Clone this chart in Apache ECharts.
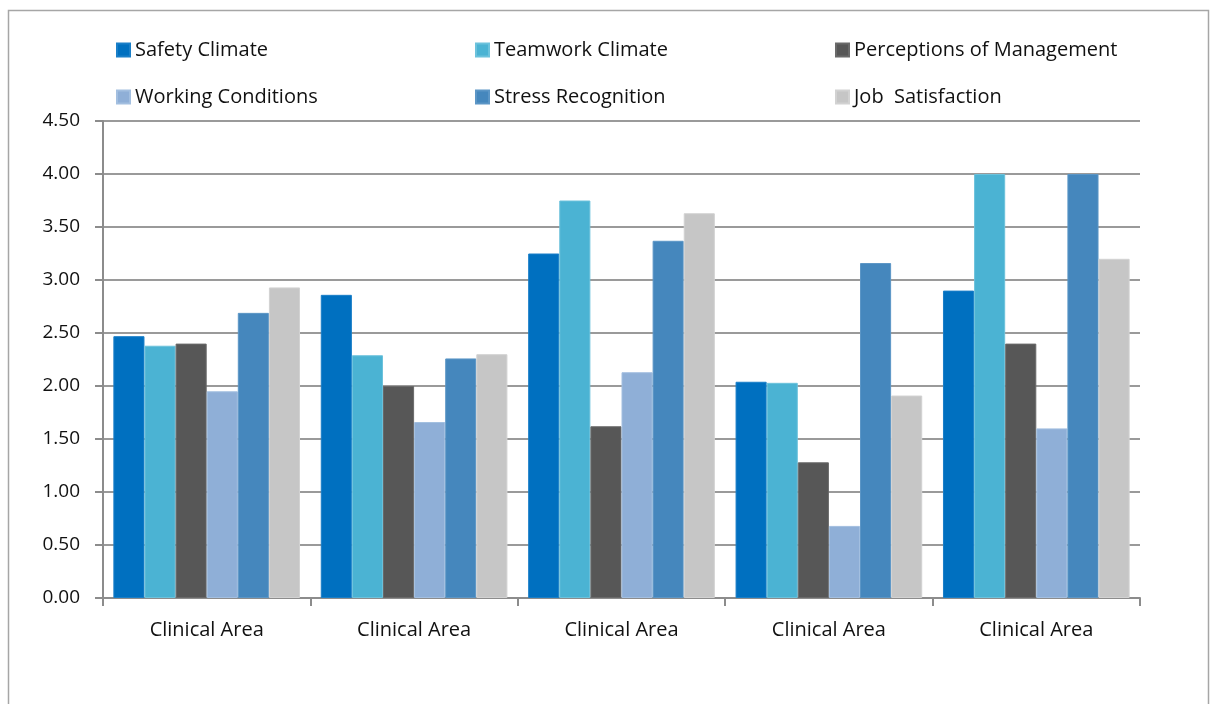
<!DOCTYPE html>
<html>
<head>
<meta charset="utf-8">
<script src="https://cdn.jsdelivr.net/npm/echarts@6/dist/echarts.min.js"></script>
<style>
html,body{margin:0;padding:0;background:#fff;}
#chart{width:1210px;height:704px;}
</style>
</head>
<body>
<div id="chart"></div>
<script>
var categories = ["Clinical Area", "Clinical Area", "Clinical Area", "Clinical Area", "Clinical Area"];
var seriesNames = ["Safety Climate", "Teamwork Climate", "Perceptions of Management", "Working Conditions", "Stress Recognition", "Job  Satisfaction"];
var safetyClimate = [2.47, 2.86, 3.25, 2.04, 2.90];
var teamworkClimate = [2.38, 2.29, 3.75, 2.03, 4.00];
var perceptionsOfManagement = [2.40, 2.00, 1.62, 1.28, 2.40];
var workingConditions = [1.95, 1.66, 2.13, 0.68, 1.60];
var stressRecognition = [2.69, 2.26, 3.37, 3.16, 4.00];
var jobSatisfaction = [2.93, 2.30, 3.63, 1.91, 3.20];
var yTicks = [0, 0.5, 1, 1.5, 2, 2.5, 3, 3.5, 4, 4.5];

var seriesData = [safetyClimate, teamworkClimate, perceptionsOfManagement, workingConditions, stressRecognition, jobSatisfaction];
var colors = ["#0070C0", "#4BB3D3", "#575757", "#8FAFD7", "#4587BD", "#C6C6C6"];
var borders = ["#1a7fc8", "#6cc2dc", "#6a6a6a", "#a3bfe0", "#5c96c6", "#d2d2d2"];

var chart = echarts.init(document.getElementById('chart'));
var font = "'Open Sans', 'Noto Sans', sans-serif";
var legendText = {fontFamily: font, fontSize: 20, color: '#111'};
function legend(left, names) {
  return {
    left: left, top: 35, orient: 'vertical', itemWidth: 13, itemHeight: 13, itemGap: 27,
    icon: 'rect', textStyle: legendText, data: names, selectedMode: false
  };
}
chart.setOption({
  animation: false,
  color: colors,
  textStyle: {fontFamily: font},
  graphic: [{
    type: 'rect', shape: {x: 8.5, y: 10.5, width: 1200, height: 720},
    style: {fill: 'none', stroke: '#a6a6a6', lineWidth: 1.5}, silent: true
  }],
  legend: [
    legend(111, [seriesNames[0], seriesNames[3]]),
    legend(470, [seriesNames[1], seriesNames[4]]),
    legend(830, [seriesNames[2], seriesNames[5]])
  ],
  grid: {left: 103, right: 70, top: 121, bottom: 106, containLabel: false},
  xAxis: {
    type: 'category', data: categories,
    axisLine: {lineStyle: {color: '#8c8c8c', width: 2}},
    axisTick: {show: true, length: 8, lineStyle: {color: '#8c8c8c', width: 2}},
    axisLabel: {fontFamily: font, fontSize: 20, color: '#111', margin: 22}
  },
  yAxis: {
    type: 'value', min: 0, max: 4.5, interval: 0.5,
    axisLine: {show: true, lineStyle: {color: '#8c8c8c', width: 2}},
    axisTick: {show: true, length: 8, lineStyle: {color: '#8c8c8c', width: 2}},
    splitLine: {lineStyle: {color: '#9a9a9a', width: 2}},
    axisLabel: {fontFamily: font, fontSize: 19, color: '#111', margin: 23,
      formatter: function (v) { return v.toFixed(2); }}
  },
  series: seriesNames.map(function (n, i) {
    return {
      name: n, type: 'bar', data: seriesData[i],
      barGap: '0%', barCategoryGap: '10%',
      itemStyle: {color: colors[i], borderColor: borders[i], borderWidth: 1}
    };
  })
});
</script>
</body>
</html>
